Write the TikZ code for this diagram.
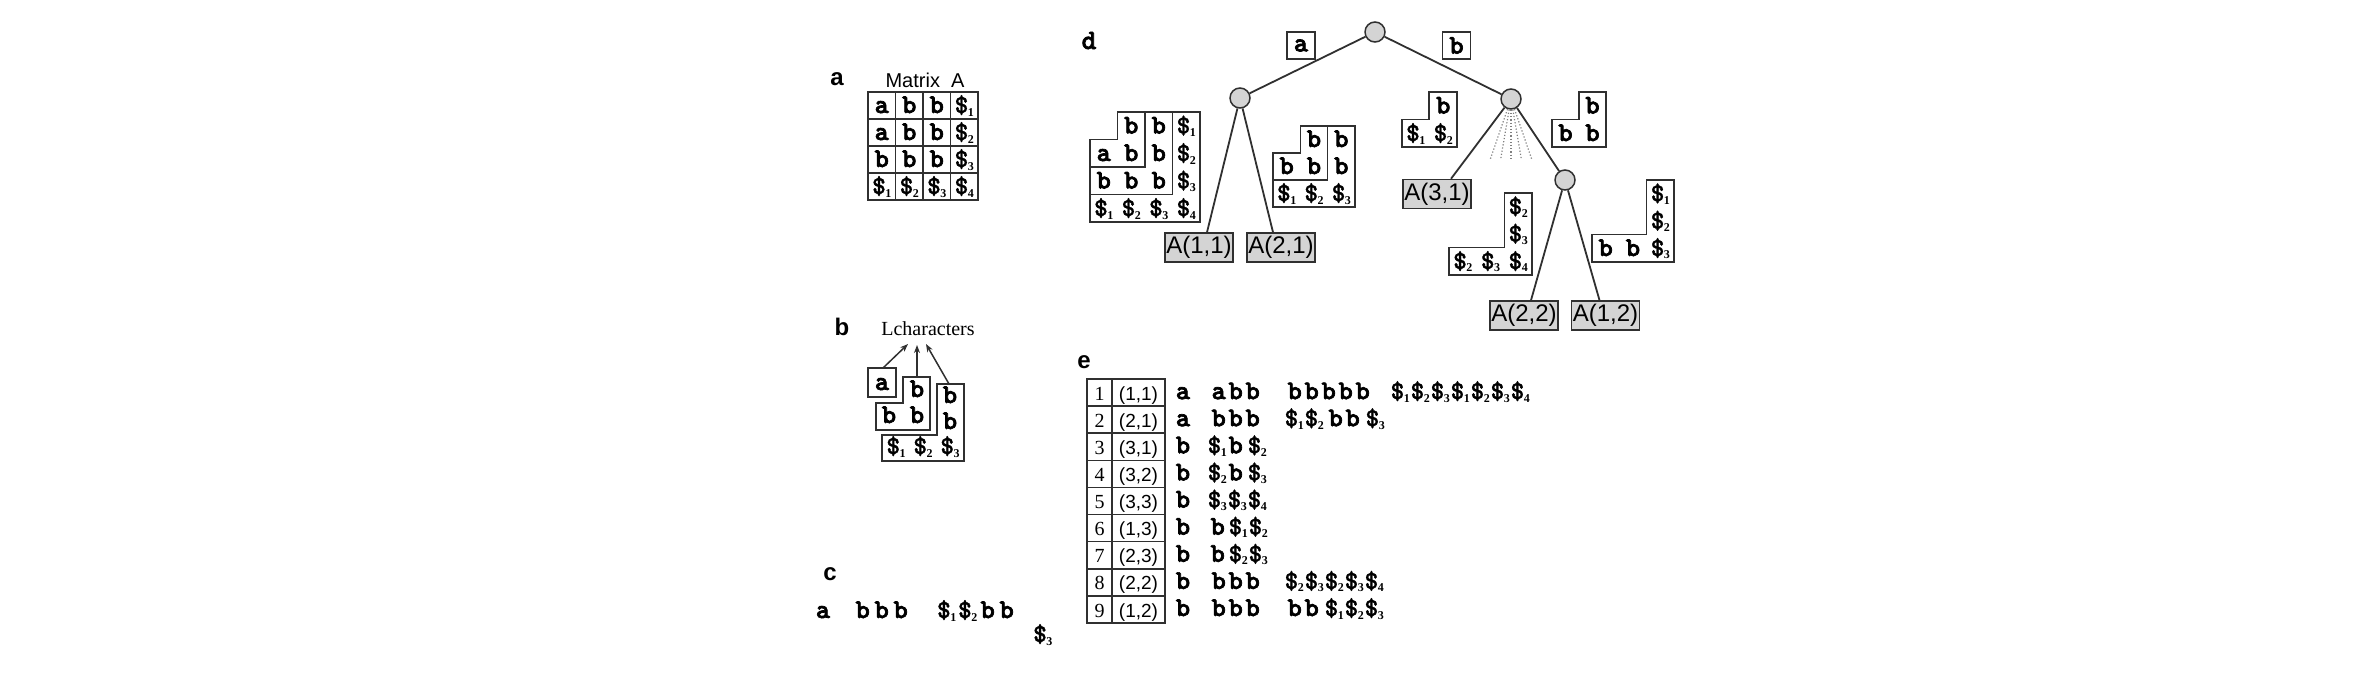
\documentclass[tikz,border=0pt]{standalone}
\usepackage{fontspec}
\newfontfamily\hv{Liberation Sans}
\newfontfamily\tm{Liberation Serif}
\font\cour="[lmmonolt10-bold.otf]:embolden=2.5" at 27pt
\font\courd="[lmmonolt10-bold.otf]:embolden=2.5" at 28pt
\font\courdl="[lmmonolt10-bold.otf]:embolden=1" at 26pt
\usetikzlibrary{arrows.meta}
\definecolor{lc}{HTML}{303030}
\definecolor{ng}{HTML}{D4D4D4}
\newcommand\dsub[1]{{\courdl\$}\kern-0.5pt\raisebox{-3pt}{\tm\bfseries\fontsize{12}{12}\selectfont #1}}
\newcommand\qa{\makebox[17pt]{a}}
\newcommand\qb{\makebox[17pt]{b}}
\newcommand\qd[1]{\makebox[20pt]{\dsub{#1}}}
\newcommand\qcb{\makebox[19pt]{b}}
\newcommand\qcd[1]{\makebox[21pt]{\dsub{#1}}}
\tikzset{
  mono/.style={font=\cour, inner sep=0pt, anchor=base},
  monow/.style={mono, anchor=base west},
  lab/.style={font=\hv\bfseries\fontsize{24}{24}\selectfont, inner sep=0pt, anchor=base},
  box/.style={draw=lc, line width=1.5pt},
  leaf/.style={draw=lc, fill=ng, line width=1.5pt, minimum width=68pt, minimum height=29pt, inner sep=0pt, font=\hv\fontsize{24}{24}\selectfont},
  knot/.style={circle, draw=lc, fill=ng, line width=1.5pt, minimum size=20pt, inner sep=0pt},
  edge/.style={draw=lc, line width=1.8pt},
  elab/.style={draw=lc, line width=1.5pt, minimum width=28pt, minimum height=27pt, inner sep=0pt, font=\cour},
  fan/.style={draw=gray, line width=1.2pt, dotted},
  arr/.style={draw=lc, line width=1.5pt, -{Stealth[length=8pt,width=6pt]}}
}
\begin{document}
\begin{tikzpicture}[x=1pt,y=-1pt]
\path[use as bounding box] (0,0) rectangle (2380,694);

% ---------------- panel a
\node[lab] (la) at (837,85) {a};
\node[font=\hv\fontsize{20}{20}\selectfont, inner sep=0pt, anchor=base] (mta) at (925,87) {Matrix\ \ A};
\draw[box, line width=2pt] (868,92) rectangle (978,200);
\foreach \i in {1,2,3} {
  \draw[box] ({868+27.5*\i},92) -- ({868+27.5*\i},200);
  \draw[box] (868,{92+27*\i}) -- (978,{92+27*\i});
}
\foreach \c/\r/\t in {1/1/a,2/1/b,3/1/b,4/1/{\dsub{1}},
                      1/2/a,2/2/b,3/2/b,4/2/{\dsub{2}},
                      1/3/b,2/3/b,3/3/b,4/3/{\dsub{3}},
                      1/4/{\dsub{1}},2/4/{\dsub{2}},3/4/{\dsub{3}},4/4/{\dsub{4}}}
  \node[mono] (ma-\r-\c) at ({868+27.5*(\c-0.5)},{92+27*\r-6}) {\t};

% ---------------- panel b
\node[lab] (lb) at (842,335) {b};
\node[font=\tm\fontsize{20}{20}\selectfont, inner sep=0pt, anchor=base] (lchar) at (928,335) {Lcharacters};
\coordinate (t1) at (908,344);
\coordinate (t2) at (917,345);
\coordinate (t3) at (926,344);
\draw[box] (868,368) rectangle (896,397);
\coordinate (s1) at (883,368);
\node[mono] (b-a) at (882,390) {a};
\draw[box] (903,377) -- (930,377) -- (930,430) -- (876,430) -- (876,403) -- (903,403) -- cycle;
\coordinate (s2) at (917,377);
\node[mono] (b-b1) at (917,397) {b};
\node[mono] (b-b2) at (889,423) {b};
\node[mono] (b-b3) at (917,423) {b};
\draw[box] (937,384) -- (964,384) -- (964,461) -- (882,461) -- (882,435) -- (937,435) -- cycle;
\coordinate (s3) at (949,384);
\node[mono] (b-c1) at (950,403) {b};
\node[mono] (b-c2) at (950,429) {b};
\node[mono] (b-d1) at (896,454) {\dsub{1}};
\node[mono] (b-d2) at (923,454) {\dsub{2}};
\node[mono] (b-d3) at (950,454) {\dsub{3}};
\draw[arr] (s1) -- (t1);
\draw[arr] (s2) -- (t2);
\draw[arr] (s3) -- (t3);

% ---------------- panel c
\node[lab] (lc) at (830,580) {c};
\node[mono] (c-a) at (823,618) {a};
\node[monow] (c-b) at (853,618) {\qcb\qcb\qcb};
\node[monow] (c-d) at (936,618) {\qcd{1}\qcd{2}\qcb\qcb};
\node[monow] (c-e) at (1033,642) {\dsub{3}};

% ---------------- panel d
\node[mono, font=\courd] (ld) at (1089,49) {d};
\node[knot] (root) at (1375,32) {};
\node[knot] (L) at (1240,98) {};
\node[knot] (R) at (1511,99) {};
\node[knot] (RR) at (1565,180) {};
\node[elab] (ea) at (1301,45.5) {a};
\node[elab] (eb) at (1456.5,45.5) {b};
\node[leaf] (A11) at (1199,247.5) {A(1,1)};
\node[leaf] (A21) at (1281,247.5) {A(2,1)};
\node[leaf] (A31) at (1437,194) {A(3,1)};
\node[leaf] (A22) at (1524,315.5) {A(2,2)};
\node[leaf] (A12) at (1605.5,315.5) {A(1,2)};
\draw[edge] (root) -- (L);
\draw[edge] (root) -- (R);
\draw[edge] (L) -- ([xshift=8pt]A11.north);
\draw[edge] (L) -- ([xshift=-8pt]A21.north);
\draw[edge] (R) -- ([xshift=14pt]A31.north);
\draw[edge] (R) -- (RR);
\draw[edge] (RR) -- ([xshift=7pt]A22.north);
\draw[edge] (RR) -- ([xshift=-6pt]A12.north);
\foreach \k in {0,...,4} {
  \coordinate (f\k) at ({1490+10.5*\k},160);
  \draw[fan] (R) -- (f\k);
}
% big left matrix
\draw[box] (1117.5,112) -- (1200,112) -- (1200,222) -- (1090,222) -- (1090,139.5) -- (1117.5,139.5) -- cycle;
\draw[box] (1145,112) -- (1145,167) -- (1090,167);
\draw[box] (1172.5,112) -- (1172.5,194.5) -- (1090,194.5);
\foreach \c/\r/\t in {2/1/b,3/1/b,4/1/{\dsub{1}},
                      1/2/a,2/2/b,3/2/b,4/2/{\dsub{2}},
                      1/3/b,2/3/b,3/3/b,4/3/{\dsub{3}},
                      1/4/{\dsub{1}},2/4/{\dsub{2}},3/4/{\dsub{3}},4/4/{\dsub{4}}}
  \node[mono] (ml-\r-\c) at ({1090+27.5*(\c-0.5)},{112+27.5*\r-6}) {\t};
% middle matrix
\draw[box] (1300.3,126) -- (1355,126) -- (1355,207) -- (1273,207) -- (1273,153) -- (1300.3,153) -- cycle;
\draw[box] (1327.7,126) -- (1327.7,180) -- (1273,180);
\foreach \c/\r/\t in {2/1/b,3/1/b,
                      1/2/b,2/2/b,3/2/b,
                      1/3/{\dsub{1}},2/3/{\dsub{2}},3/3/{\dsub{3}}}
  \node[mono] (mm-\r-\c) at ({1273+27.33*(\c-0.5)},{126+27*\r-6}) {\t};
% S1
\draw[box] (1429,92) -- (1457,92) -- (1457,147) -- (1402,147) -- (1402,119.5) -- (1429,119.5) -- cycle;
\foreach \c/\r/\t in {2/1/b,1/2/{\dsub{1}},2/2/{\dsub{2}}}
  \node[mono] (sa-\r-\c) at ({1402+27.5*(\c-0.5)},{92+27.5*\r-6}) {\t};
% S2
\draw[box] (1579,92) -- (1606,92) -- (1606,147) -- (1552,147) -- (1552,119.5) -- (1579,119.5) -- cycle;
\foreach \c/\r/\t in {2/1/b,1/2/b,2/2/b}
  \node[mono] (sb-\r-\c) at ({1552+27*(\c-0.5)},{92+27.5*\r-6}) {\t};
% S3
\draw[box] (1504.3,193) -- (1532,193) -- (1532,275) -- (1449,275) -- (1449,247.7) -- (1504.3,247.7) -- cycle;
\foreach \c/\r/\t in {3/1/{\dsub{2}},3/2/{\dsub{3}},1/3/{\dsub{2}},2/3/{\dsub{3}},3/3/{\dsub{4}}}
  \node[mono] (sc-\r-\c) at ({1449+27.67*(\c-0.5)},{193+27.33*\r-6}) {\t};
% S4
\draw[box] (1646.7,180) -- (1674,180) -- (1674,262) -- (1592,262) -- (1592,234.7) -- (1646.7,234.7) -- cycle;
\foreach \c/\r/\t in {3/1/{\dsub{1}},3/2/{\dsub{2}},1/3/b,2/3/b,3/3/{\dsub{3}}}
  \node[mono] (sd-\r-\c) at ({1592+27.33*(\c-0.5)},{180+27.33*\r-6}) {\t};

% ---------------- panel e
\node[lab] (le) at (1084,368) {e};
\draw[box, line width=2pt] (1087,379) rectangle (1165,623);
\draw[box] (1112,379) -- (1112,623);
\foreach \i in {1,...,8}
  \draw[box] (1087,{379+27.11*\i}) -- (1165,{379+27.11*\i});
\foreach \i/\p in {1/{(1,1)},2/{(2,1)},3/{(3,1)},4/{(3,2)},5/{(3,3)},6/{(1,3)},7/{(2,3)},8/{(2,2)},9/{(1,2)}} {
  \node[font=\tm\fontsize{20}{20}\selectfont, inner sep=0pt, anchor=base] (en\i) at (1099.5,{379+27.11*\i-6}) {\i};
  \node[font=\hv\fontsize{19}{19}\selectfont, inner sep=0pt, anchor=base] (ep\i) at (1138.5,{379+27.11*\i-6}) {\p};
}
\foreach \i/\f in {1/a,2/a,3/b,4/b,5/b,6/b,7/b,8/b,9/b}
  \node[mono] (ef\i) at (1183,{379+27.11*\i-7}) {\f};
\def\rb#1{379+27.11*#1-7}
\node[monow] (r1a) at (1210,{\rb{1}}) {\qa\qb\qb};
\node[monow] (r1b) at (1286,{\rb{1}}) {\qb\qb\qb\qb\qb};
\node[monow] (r1c) at (1390,{\rb{1}}) {\qd{1}\qd{2}\qd{3}\qd{1}\qd{2}\qd{3}\qd{4}};
\node[monow] (r2a) at (1210,{\rb{2}}) {\qb\qb\qb};
\node[monow] (r2b) at (1284,{\rb{2}}) {\qd{1}\qd{2}\hspace{3pt}\qb\qb\hspace{4pt}\qd{3}};
\node[monow] (r3a) at (1207,{\rb{3}}) {\qd{1}\qb\hspace{3pt}\qd{2}};
\node[monow] (r4a) at (1207,{\rb{4}}) {\qd{2}\qb\hspace{3pt}\qd{3}};
\node[monow] (r5a) at (1207,{\rb{5}}) {\qd{3}\qd{3}\qd{4}};
\node[monow] (r6a) at (1209,{\rb{6}}) {\qb\hspace{2pt}\qd{1}\qd{2}};
\node[monow] (r7a) at (1209,{\rb{7}}) {\qb\hspace{2pt}\qd{2}\qd{3}};
\node[monow] (r8a) at (1210,{\rb{8}}) {\qb\qb\qb};
\node[monow] (r8b) at (1284,{\rb{8}}) {\qd{2}\qd{3}\qd{2}\qd{3}\qd{4}};
\node[monow] (r9a) at (1210,{\rb{9}}) {\qb\qb\qb};
\node[monow] (r9b) at (1286,{\rb{9}}) {\qb\qb\hspace{4pt}\qd{1}\qd{2}\qd{3}};
\end{tikzpicture}
\end{document}
